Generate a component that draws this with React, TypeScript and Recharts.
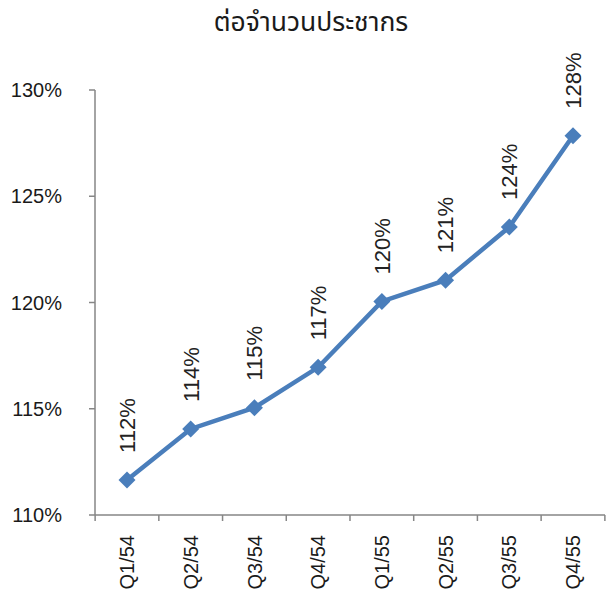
import { LineChart, Line, XAxis, YAxis } from "recharts";

const quarters = ["Q1/54", "Q2/54", "Q3/54", "Q4/54", "Q1/55", "Q2/55", "Q3/55", "Q4/55"];
const ratio = [111.65, 114.05, 115.05, 116.95, 120.05, 121.05, 123.55, 127.85];
const yTicks = [110, 115, 120, 125, 130];

const data = quarters.map((q, i) => ({ q, v: ratio[i] }));

const axisColor = "#868686";
const lineColor = "#4a7ebb";
const font = "'Liberation Sans', Arial, sans-serif";

function Diamond(props: any) {
  const { cx, cy } = props;
  const r = 8.5;
  return (
    <polygon
      points={`${cx},${cy - r} ${cx + r},${cy} ${cx},${cy + r} ${cx - r},${cy}`}
      fill={lineColor}
    />
  );
}

function XTick(props: any) {
  const { x, y, payload, index, width, visibleTicksCount } = props;
  const band = width / visibleTicksCount;
  const left = x - band / 2;
  return (
    <g>
      <line x1={left} y1={y} x2={left} y2={y + 6} stroke={axisColor} strokeWidth={1.5} />
      {index === visibleTicksCount - 1 && (
        <line x1={x + band / 2} y1={y} x2={x + band / 2} y2={y + 6} stroke={axisColor} strokeWidth={1.5} />
      )}
      <text
        transform={`translate(${x},${y + 20}) rotate(-90)`}
        textAnchor="end"
        dy="0.36em"
        fontSize={20}
        fontFamily={font}
        fill="#1a1a1a"
      >
        {payload.value}
      </text>
    </g>
  );
}

function ValueLabel(props: any) {
  const { x, y, value } = props;
  return (
    <text
      transform={`translate(${x},${y - 27}) rotate(-90)`}
      textAnchor="start"
      dy="0.36em"
      fontSize={22}
      fontFamily={font}
      fill="#222"
    >
      {`${Math.round(value)}%`}
    </text>
  );
}

export default function App() {
  return (
    <div style={{ position: "absolute", left: 0, top: 0, width: 606, height: 595, background: "#fff" }}>
      <div
        style={{
          position: "absolute",
          left: 0,
          top: 3,
          width: 622,
          textAlign: "center",
          fontSize: 26.5,
          fontFamily: "'Noto Sans Thai', 'Noto Sans Thai UI', 'Noto Sans', sans-serif",
          color: "#1a1a1a",
        }}
      >
        ต่อจำนวนประชากร
      </div>
      <LineChart width={606} height={595} data={data} margin={{ top: 90, right: 1, bottom: 0, left: 0 }}>
        <XAxis
          dataKey="q"
          height={80}
          interval={0}
          padding={{ left: 32, right: 32 }}
          tickSize={0}
          tickMargin={0}
          tickLine={false}
          tick={<XTick />}
          axisLine={{ stroke: axisColor, strokeWidth: 1.5 }}
        />
        <YAxis
          width={95}
          domain={[110, 130]}
          ticks={yTicks}
          tickFormatter={(v: number) => `${v}%`}
          tickSize={6}
          tickMargin={27}
          tick={{ fontSize: 20, fontFamily: font, fill: "#1a1a1a" }}
          tickLine={{ stroke: axisColor, strokeWidth: 1.5 }}
          axisLine={{ stroke: axisColor, strokeWidth: 1.5 }}
        />
        <Line
          dataKey="v"
          stroke={lineColor}
          strokeWidth={4.5}
          dot={<Diamond />}
          activeDot={false}
          label={<ValueLabel />}
          isAnimationActive={false}
        />
      </LineChart>
    </div>
  );
}
